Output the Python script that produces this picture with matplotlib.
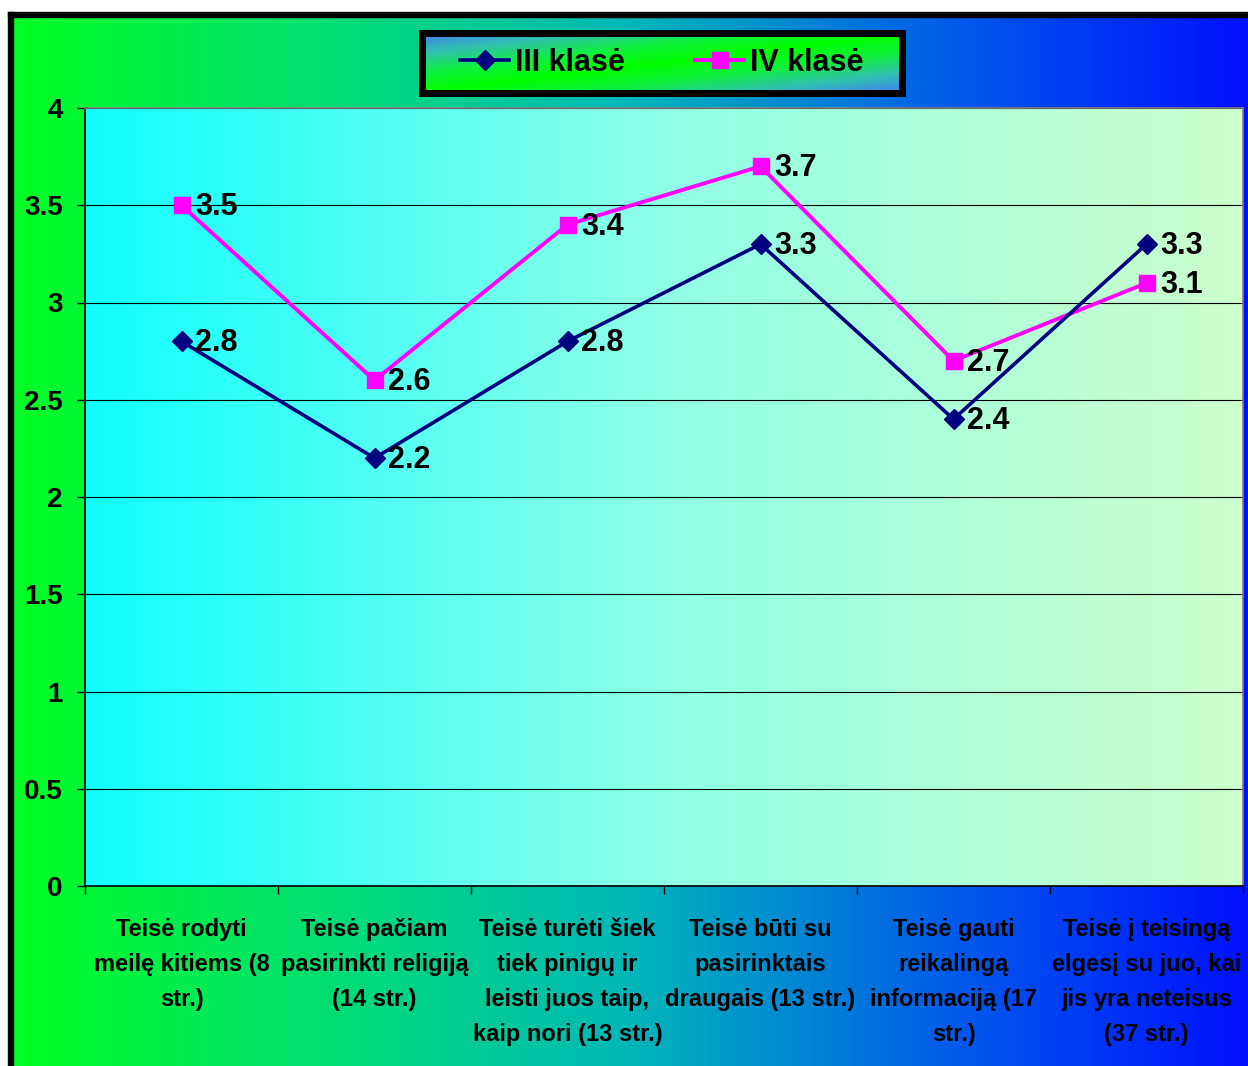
import numpy as np
import matplotlib.pyplot as plt
from matplotlib.colors import LinearSegmentedColormap
from matplotlib.lines import Line2D
from matplotlib.patches import Rectangle

plt.rcParams['font.family'] = ['Liberation Sans Narrow', 'Liberation Sans', 'DejaVu Sans']
plt.rcParams['font.weight'] = 'bold'

categories = ["Teisė rodyti\nmeilę kitiems (8\nstr.)",
              "Teisė pačiam\npasirinkti religiją\n(14 str.)",
              "Teisė turėti šiek\ntiek pinigų ir\nleisti juos taip,\nkaip nori (13 str.)",
              "Teisė būti su\npasirinktais\ndraugais (13 str.)",
              "Teisė gauti\nreikalingą\ninformaciją (17\nstr.)",
              "Teisė į teisingą\nelgesį su juo, kai\njis yra neteisus\n(37 str.)"]
klase3 = [2.8, 2.2, 2.8, 3.3, 2.4, 3.3]
klase4 = [3.5, 2.6, 3.4, 3.7, 2.7, 3.1]
series_names = ["III klasė", "IV klasė"]

W, H = 1248, 1066
fig = plt.figure(figsize=(W / 100, H / 100), dpi=100)

# fonas: zalias -> melynas
bg = fig.add_axes([0, 0, 1, 1], zorder=-5)
bg_cmap = LinearSegmentedColormap.from_list('bg', ['#00ff20', '#00e070', '#00b8b8', '#0060e8', '#0010ff'])
bg.imshow(np.linspace(0, 1, 256).reshape(1, -1), cmap=bg_cmap, aspect='auto', extent=[0, 1, 0, 1])
bg.set_xlim(0, 1)
bg.set_ylim(0, 1)
bg.axis('off')
bg.add_patch(Rectangle((0, 1 - 12 / H), 1, 12 / H, color='white', zorder=2))
bg.add_patch(Rectangle((0, 0), 8 / W, 1, color='white', zorder=2))
bg.add_patch(Rectangle((8 / W, 1 - 17 / H), 1, 5 / H, color='black', zorder=3))
bg.add_patch(Rectangle((8 / W, 0), 5 / W, 1 - 12 / H, color='black', zorder=3))

# braizymo sritis
left, right, top, bottom = 85, 1243, 108, 886
ax = fig.add_axes([left / W, 1 - bottom / H, (right - left) / W, (bottom - top) / H])
pa_cmap = LinearSegmentedColormap.from_list('pa', ['#10ffff', '#90ffe6', '#ccffcc'])
ax.imshow(np.linspace(0, 1, 256).reshape(1, -1), cmap=pa_cmap, aspect='auto',
          extent=[0, 1, 0, 1], transform=ax.transAxes, zorder=0)

x = np.arange(len(categories))
ax.plot(x, klase3, color='#000080', lw=2.6, marker='D', ms=10, zorder=4)
ax.plot(x, klase4, color='#ff00ff', lw=2.8, marker='s', ms=11.5, zorder=3)
for xi, v in zip(x, klase3):
    ax.annotate(f"{v}", (xi, v), xytext=(10, -1.5), textcoords='offset points',
                va='center', ha='left', fontsize=22, fontweight='bold', zorder=5)
for xi, v in zip(x, klase4):
    ax.annotate(f"{v}", (xi, v), xytext=(10, -1.5), textcoords='offset points',
                va='center', ha='left', fontsize=22, fontweight='bold', zorder=5)

ax.set_xlim(-0.5, len(categories) - 0.5)
ax.set_ylim(0, 4)
ax.set_yticks(np.arange(0, 4.01, 0.5))
ax.set_yticklabels(['0', '0.5', '1', '1.5', '2', '2.5', '3', '3.5', '4'])
ax.yaxis.grid(True, color='black', lw=0.8)
for gl in ax.get_ygridlines():
    gl.set_zorder(1)
ax.set_xticks(x)
ax.set_xticklabels(categories, fontsize=17, fontweight='bold', linespacing=1.66, va='top')
ax.set_xticks(np.arange(-0.5, len(categories), 1), minor=True)
ax.tick_params(axis='x', which='major', length=0, pad=23)
ax.tick_params(axis='x', which='minor', length=6, width=1, direction='out')
ax.tick_params(axis='y', length=6, width=1, direction='out', labelsize=20, pad=10)
for lab in ax.get_yticklabels():
    lab.set_fontweight('bold')
ax.spines['left'].set_color('black')
ax.spines['bottom'].set_color('black')
ax.spines['top'].set_color('#808080')
ax.spines['right'].set_color('#808080')
for s in ax.spines.values():
    s.set_linewidth(1.2)

# legenda su istrizu gradientu
lx0, lx1, ly0, ly1 = 422, 902, 33, 93
lax = fig.add_axes([lx0 / W, 1 - ly1 / H, (lx1 - lx0) / W, (ly1 - ly0) / H], zorder=6)
gx, gy = np.meshgrid(np.linspace(0, 1, 240), np.linspace(0, 1, 60))
d = np.abs(gy - gx)
leg_cmap = LinearSegmentedColormap.from_list('lg', ['#00ff00', '#10f040', '#30c0b0', '#4080f0'])
lax.imshow(d, cmap=leg_cmap, aspect='auto', extent=[0, 1, 0, 1], origin='lower')
lax.set_xticks([])
lax.set_yticks([])
for s in lax.spines.values():
    s.set_linewidth(5)
    s.set_color('black')
handles = [Line2D([], [], color='#000080', lw=2.6, marker='D', ms=10),
           Line2D([], [], color='#ff00ff', lw=2.8, marker='s', ms=11.5)]
lax.legend(handles, series_names, loc='center', ncol=2, frameon=False,
           prop={'size': 22, 'weight': 'bold'}, handlelength=1.6, handletextpad=0.2,
           columnspacing=2.3, borderaxespad=0)

fig.savefig('out.png', dpi=100)
